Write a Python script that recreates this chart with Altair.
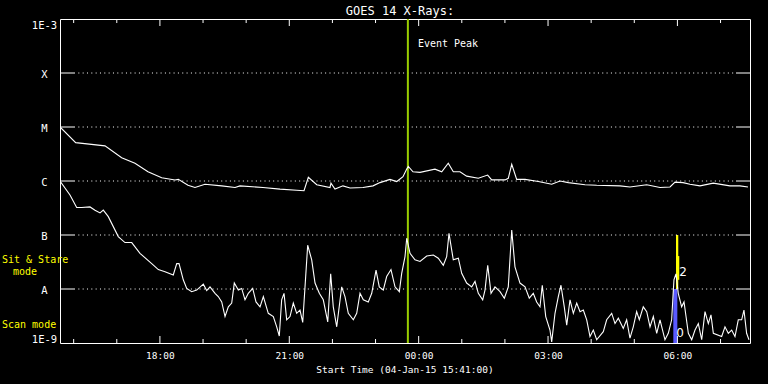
import altair as alt
import pandas as pd

# ---------------- data (minutes after 15:41 UT on 04-Jan-15, log10 flux W/m^2) ----------------
long_min = [0, 21.8, 62.6, 85.8, 104.3, 122.4, 141.5, 160, 164.6, 178.1,
            187.8, 201.7, 225, 243.5, 250.4, 282.4, 306.1, 329.3, 339.5, 345.5,
            357.2, 375.7, 377, 382.6, 393.7, 403.5, 421.6, 435.5, 445.2, 459.1,
            468.5, 477.2, 482.4, 484.6, 491.1, 500.9, 521.7, 531.1, 540.2, 547.2,
            556.5, 565.8, 582, 595, 600.6, 619.1, 623.7, 628.5, 635.4, 647,
            665.5, 684.1, 695.7, 707.2, 730.4, 746.7, 779.1, 793, 816.3, 834.8,
            848.7, 855.7, 866.8, 876.5, 890.4, 908.9, 932.1, 946, 957.2]
long_log = [-5.00, -5.29, -5.35, -5.57, -5.67, -5.83, -5.94, -5.98, -5.97, -6.08,
            -6.12, -6.06, -6.09, -6.12, -6.09, -6.12, -6.15, -6.17, -6.18, -5.93,
            -6.07, -6.12, -6.04, -6.15, -6.09, -6.13, -6.12, -6.09, -6.03, -5.97,
            -6.01, -5.92, -5.78, -5.73, -5.83, -5.84, -5.78, -5.83, -5.67, -5.83,
            -5.83, -5.91, -5.95, -5.89, -5.98, -5.98, -5.95, -5.69, -5.97, -5.97,
            -6.01, -6.06, -6.00, -6.03, -6.07, -6.08, -6.09, -6.11, -6.07, -6.12,
            -6.11, -6.02, -6.03, -6.06, -6.09, -6.04, -6.09, -6.09, -6.11]

short_min = [0, 13.9, 23.2, 30.2, 41.7, 48.7, 55.7, 60.2, 67.2, 81.1,
             90.4, 99.8, 111.3, 127.6, 136.8, 146.1, 157.6, 162.4, 165.6, 171.5,
             176.3, 183.2, 190.2, 199.4, 204.1, 208.7, 215.7, 220.2, 225, 229.6,
             234.2, 238.9, 242.5, 248.1, 252.8, 257.4, 262, 268.1, 272.7, 278.3,
             282.9, 289.8, 296.8, 301.5, 305.1, 308.4, 311.7, 315.4, 320, 324.6,
             329.3, 333.9, 337.7, 340.9, 344.6, 350.2, 354.8, 360.8, 366.3, 372.5,
             376.6, 380.2, 385, 391.9, 396.5, 401.1, 408.1, 412.8, 417.4, 422,
             428.9, 433.7, 439.7, 444.2, 449.8, 454.5, 460.5, 466.1, 472.1, 475.4,
             480, 482.4, 487, 493.9, 500.9, 510.2, 519.4, 526.3, 533.3, 538,
             541.2, 547.2, 554.2, 558.9, 565.8, 572.8, 577.4, 582, 588.1, 591.3,
             595.1, 599.7, 605.2, 612.2, 618.2, 623.7, 628.5, 633, 640, 647,
             652.9, 658.5, 663.2, 667.8, 671, 675.8, 681.7, 684.1, 688.7, 693.3,
             697, 701.6, 705, 709.6, 714.2, 718.9, 723.5, 728.1, 732.8, 737.4,
             742, 746.7, 755.9, 760.6, 767.6, 772.2, 776.8, 783.7, 788.4, 793,
             797.6, 802.3, 806, 811.5, 816.3, 820.9, 825.5, 830.2, 834.8, 841.7,
             846.3, 851, 854.2, 857, 860.2, 864.9, 868.2, 871, 874.2, 878.9,
             883.5, 888.1, 892.8, 897.4, 902, 905.7, 909, 920.6, 925.2, 929.8,
             934.5, 939.1, 943.7, 948.4, 951.6, 955.3, 958.6]
short_log = [-6.00, -6.26, -6.49, -6.49, -6.48, -6.54, -6.59, -6.54, -6.66, -7.03,
             -7.14, -7.14, -7.34, -7.53, -7.64, -7.68, -7.74, -7.53, -7.53, -7.83,
             -7.99, -8.05, -8.02, -7.91, -8.03, -7.96, -8.08, -8.14, -8.24, -8.51,
             -8.33, -8.26, -7.89, -8.02, -7.99, -8.20, -8.08, -7.99, -8.24, -8.33,
             -8.14, -8.45, -8.51, -8.70, -8.87, -8.20, -8.08, -8.57, -8.51, -8.26,
             -8.45, -8.39, -8.62, -7.96, -7.19, -7.46, -7.89, -8.08, -8.20, -8.61,
             -7.72, -8.33, -8.70, -7.96, -8.14, -8.45, -8.57, -8.45, -8.08, -8.20,
             -8.24, -8.08, -7.65, -7.96, -8.02, -7.77, -7.64, -7.96, -8.05, -7.71,
             -7.40, -7.06, -7.34, -7.46, -7.49, -7.39, -7.37, -7.43, -7.56, -7.40,
             -6.97, -7.46, -7.43, -7.71, -7.89, -7.96, -7.86, -8.08, -8.20, -8.02,
             -7.56, -8.08, -7.96, -8.05, -8.17, -7.96, -6.91, -7.59, -7.89, -7.96,
             -8.17, -8.08, -8.24, -8.33, -7.93, -8.51, -8.76, -8.98, -8.45, -8.14,
             -7.93, -8.33, -8.67, -8.20, -8.45, -8.26, -8.42, -8.39, -8.57, -8.88,
             -8.76, -8.94, -8.79, -8.57, -8.45, -8.64, -8.54, -8.73, -8.57, -8.91,
             -8.70, -8.42, -8.57, -8.33, -8.42, -8.70, -8.51, -8.82, -8.57, -8.94,
             -8.82, -8.57, -7.83, -7.72, -8.08, -8.33, -8.24, -8.51, -8.82, -8.94,
             -8.76, -8.64, -8.94, -8.42, -8.64, -8.48, -8.82, -8.88, -8.70, -8.82,
             -8.76, -8.88, -8.57, -8.57, -8.39, -8.82, -8.94]

# GOES class levels and labels
level_log = [-9, -8, -7, -6, -5, -4, -3]
level_labels = ["1E-9", "A", "B", "C", "M", "X", "1E-3"]
grid_levels = [-8, -7, -6, -5, -4]

# time ticks (minutes after 15:41)
major_tick_min = [139, 319, 499, 679, 859]
major_tick_labels = ["18:00", "21:00", "00:00", "03:00", "06:00"]
minor_tick_min = [19, 79, 199, 259, 379, 439, 559, 619, 739, 799, 919]

event_peak_min = 484

# observing-mode bars
mode_m0 = [857.0, 857.0, 853.3]
mode_m1 = [860.2, 861.6, 858.9]
mode_top = [-7.0, -7.39, -8.0]
mode_bot = [-8.0, -7.83, -9.0]
mode_col = ["#ffff00", "#ffff00", "#5a5aff"]

title_text = "GOES 14 X-Rays:"
xtitle_text = "Start Time (04-Jan-15 15:41:00)"

# ---------------- chart ----------------
W, H = 690, 324
FONT = "DejaVu Sans Mono"

long_df = pd.DataFrame({"m": long_min, "L": long_log})
short_df = pd.DataFrame({"m": short_min, "L": short_log})

def ternary(vals, labels):
    expr = "''"
    for v, l in reversed(list(zip(vals, labels))):
        expr = f"(datum.value == {v} ? '{l}' : {expr})"
    return expr

xscale = alt.Scale(domain=[0, 960], nice=False, zero=False)
yscale = alt.Scale(domain=[-9, -3], nice=False, zero=False)

x_axis = alt.Axis(values=major_tick_min, labelExpr=ternary(major_tick_min, major_tick_labels),
                  domain=False, ticks=False, grid=False, labelColor="white", labelFont=FONT,
                  labelFontSize=9.5, labelPadding=7, labelBaseline="top", title=None)
y_axis = alt.Axis(values=level_log, labelExpr=ternary(level_log, level_labels),
                  domain=False, ticks=False, grid=False, labelColor="white", labelFont=FONT,
                  labelFontSize=10.5, labelPadding=16, labelAlign="center", labelFlush=True,
                  labelOffset=1, title=None)

X = alt.X("m:Q", scale=xscale, axis=x_axis)
Y = alt.Y("L:Q", scale=yscale, axis=y_axis)

modes_df = pd.DataFrame({"m0": mode_m0, "m1": mode_m1, "t": mode_top, "b": mode_bot, "c": mode_col})
modes = alt.Chart(modes_df).mark_rect().encode(
    x=alt.X("m0:Q", scale=xscale, axis=x_axis), x2="m1:Q",
    y=alt.Y("t:Q", scale=yscale, axis=y_axis), y2="b:Q",
    color=alt.Color("c:N", scale=None),
)

grid_df = pd.DataFrame({"L": grid_levels})
grid = alt.Chart(grid_df).mark_rule(color="white", strokeWidth=1, strokeDash=[1, 3.33]).encode(
    y=Y, x=alt.value(14), x2=alt.value(W - 14))
ytick_l = alt.Chart(grid_df).mark_rule(color="white", strokeWidth=1).encode(
    y=Y, x=alt.value(0), x2=alt.value(14))
ytick_r = alt.Chart(grid_df).mark_rule(color="white", strokeWidth=1).encode(
    y=Y, x=alt.value(W - 14), x2=alt.value(W))

maj_df = pd.DataFrame({"m": major_tick_min})
min_df = pd.DataFrame({"m": minor_tick_min})
xt = []
for df, ln in [(maj_df, 7), (min_df, 4)]:
    xt.append(alt.Chart(df).mark_rule(color="white").encode(x=X, y=alt.value(H - ln), y2=alt.value(H)))
    xt.append(alt.Chart(df).mark_rule(color="white").encode(x=X, y=alt.value(0), y2=alt.value(ln)))

peak_df = pd.DataFrame({"m": [event_peak_min], "t": ["Event Peak"]})
peak = alt.Chart(peak_df).mark_rule(color="#99cc00", strokeWidth=2).encode(
    x=X, y=alt.value(0), y2=alt.value(H))
peak_txt = alt.Chart(peak_df).mark_text(color="white", font=FONT, fontSize=10, align="left",
                                        baseline="alphabetic", dx=10).encode(
    x=X, y=alt.value(28), text="t:N")

long_line = alt.Chart(long_df).mark_line(color="white", strokeWidth=1.1, clip=True).encode(x=X, y=Y)
short_line = alt.Chart(short_df).mark_line(color="white", strokeWidth=1.1, clip=True).encode(x=X, y=Y)

obs_df = pd.DataFrame({"m": [857, 857], "L": [-7.69, -8.81], "t": ["2", "0"]})
obs2 = alt.Chart(obs_df.iloc[[0]]).mark_text(color="white", font="DejaVu Sans", fontSize=12,
                                             align="center", dx=7).encode(x=X, y=Y, text="t:N")
obs0 = alt.Chart(obs_df.iloc[[1]]).mark_text(color="white", font="DejaVu Sans", fontSize=12,
                                             align="center", dx=4).encode(x=X, y=Y, text="t:N")

def label(txt, x, y, color="white", size=10, align="left"):
    return alt.Chart(pd.DataFrame({"t": [txt]})).mark_text(
        color=color, font=FONT, fontSize=size, align=align, baseline="alphabetic").encode(
        x=alt.value(x), y=alt.value(y), text="t:N")

texts = [
    label(title_text, W / 2 - 5, -4, size=12, align="center"),
    label(xtitle_text, W / 2, 353.5, size=9.5, align="center"),
    label("Sit & Stare", -58, 244, color="#ffff00"),
    label("mode", -47, 256, color="#ffff00"),
    label("Scan mode", -58, 309, color="#ffff00"),
]

chart = alt.layer(
    modes, grid, ytick_l, ytick_r, *xt, peak, peak_txt, long_line, short_line, obs2, obs0, *texts
).properties(
    width=W, height=H,
    padding={"left": 60, "top": 19, "right": 18, "bottom": 41},
    autosize=alt.AutoSizeParams(type="none"),
).configure(background="black").configure_view(stroke="white", strokeWidth=1)

chart.save("out.html", embed_options={"renderer": "svg", "actions": False})
